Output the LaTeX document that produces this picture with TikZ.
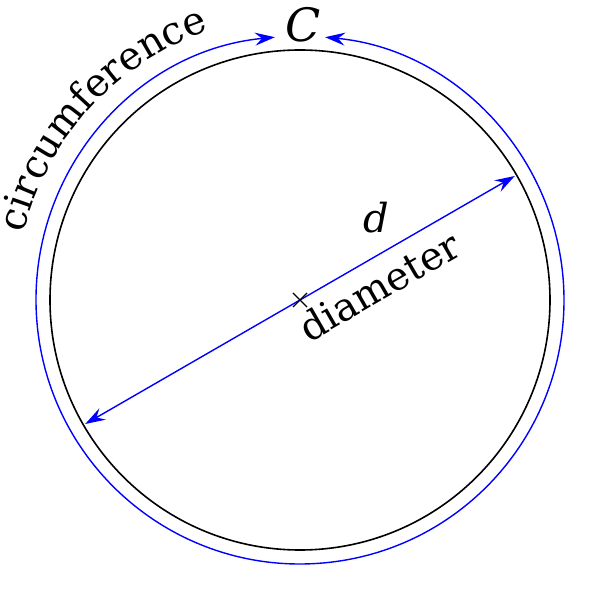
\documentclass[tikz,border=0pt]{standalone}
\usepackage{fontspec}
\setmainfont{DejaVu Serif}
\usetikzlibrary{arrows.meta,decorations.text,calc}
\tikzset{
  circ/.style={draw=black,line width=1.6pt},
  bluetip/.tip={Stealth[length=20pt,width=13pt,inset=7pt]},
  bluearc/.style={draw=blue,line width=1.4pt,bluetip-bluetip},
  lbl/.style={inner sep=0pt},
  centermark/.style={draw=black,line width=1.3pt},
}
\begin{document}
\begin{tikzpicture}[x=1pt,y=1pt]
\useasboundingbox (0,0) rectangle (600,600);
\coordinate (O) at (300,300);
\draw[circ] (O) circle[radius=250];
% circumference arc
\coordinate (Cs) at ($(O)+(95.45:264)$);
\draw[bluearc] (Cs) arc[start angle=95.45, end angle=444.55, radius=264];
% diameter
\coordinate (A) at ($(O)+(210:248)$);
\coordinate (B) at ($(O)+(30:248)$);
\draw[bluearc] (A) -- (B);
% center mark
\draw[centermark] ($(O)+(-7,7)$) -- ($(O)+(7,-7)$);
\draw[centermark] ($(O)+(-7,-7)$) -- ($(O)+(7,7)$);
% labels
\node[lbl] (C) at (303,575) {\fontsize{46}{50}\selectfont\itshape C};
\node[lbl] (d) at (376,382) {\fontsize{40}{44}\selectfont\itshape d};
\node[lbl,rotate=30] (dia) at (379,314) {\fontsize{39}{42}\selectfont diameter};
\path[decorate,decoration={text along path,text align=center,
  text={|\fontsize{39}{42}\selectfont|circumference}}]
  ($(O)+(169.5:284)$) arc[start angle=169.5, end angle=105.5, radius=284];
\end{tikzpicture}
\end{document}
